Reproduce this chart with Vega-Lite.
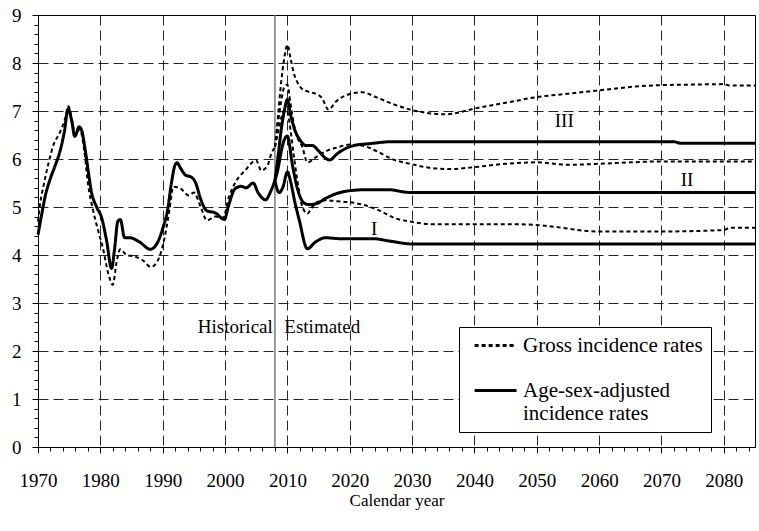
{
  "$schema": "https://vega.github.io/schema/vega-lite/v6.json",
  "width": 717,
  "height": 432,
  "autosize": {"type": "none"},
  "padding": {"left": 38, "top": 15, "right": 4, "bottom": 84},
  "config": {
    "font": "Liberation Serif",
    "view": {"stroke": "black", "strokeWidth": 1},
    "axis": {
      "domainColor": "black",
      "tickColor": "black",
      "labelColor": "black",
      "titleColor": "black",
      "labelFont": "Liberation Serif",
      "titleFont": "Liberation Serif"
    }
  },
  "datasets": {
    "curves": [
      {"year": 1970.0, "rate": 4.42, "measure": "adjusted", "scenario": "H"},
      {"year": 1970.6, "rate": 4.85, "measure": "adjusted", "scenario": "H"},
      {"year": 1971.2, "rate": 5.25, "measure": "adjusted", "scenario": "H"},
      {"year": 1972.0, "rate": 5.6, "measure": "adjusted", "scenario": "H"},
      {"year": 1972.8, "rate": 5.88, "measure": "adjusted", "scenario": "H"},
      {"year": 1973.5, "rate": 6.15, "measure": "adjusted", "scenario": "H"},
      {"year": 1974.2, "rate": 6.55, "measure": "adjusted", "scenario": "H"},
      {"year": 1974.85, "rate": 7.05, "measure": "adjusted", "scenario": "H"},
      {"year": 1975.4, "rate": 6.8, "measure": "adjusted", "scenario": "H"},
      {"year": 1975.9, "rate": 6.47, "measure": "adjusted", "scenario": "H"},
      {"year": 1976.6, "rate": 6.67, "measure": "adjusted", "scenario": "H"},
      {"year": 1977.0, "rate": 6.6, "measure": "adjusted", "scenario": "H"},
      {"year": 1977.5, "rate": 6.25, "measure": "adjusted", "scenario": "H"},
      {"year": 1978.0, "rate": 5.8, "measure": "adjusted", "scenario": "H"},
      {"year": 1978.6, "rate": 5.3, "measure": "adjusted", "scenario": "H"},
      {"year": 1979.4, "rate": 5.0, "measure": "adjusted", "scenario": "H"},
      {"year": 1980.2, "rate": 4.78, "measure": "adjusted", "scenario": "H"},
      {"year": 1981.0, "rate": 4.3, "measure": "adjusted", "scenario": "H"},
      {"year": 1981.8, "rate": 3.72, "measure": "adjusted", "scenario": "H"},
      {"year": 1982.3, "rate": 4.15, "measure": "adjusted", "scenario": "H"},
      {"year": 1982.8, "rate": 4.7, "measure": "adjusted", "scenario": "H"},
      {"year": 1983.2, "rate": 4.74, "measure": "adjusted", "scenario": "H"},
      {"year": 1983.9, "rate": 4.36, "measure": "adjusted", "scenario": "H"},
      {"year": 1984.7, "rate": 4.36, "measure": "adjusted", "scenario": "H"},
      {"year": 1986.3, "rate": 4.27, "measure": "adjusted", "scenario": "H"},
      {"year": 1988.0, "rate": 4.12, "measure": "adjusted", "scenario": "H"},
      {"year": 1989.0, "rate": 4.22, "measure": "adjusted", "scenario": "H"},
      {"year": 1990.0, "rate": 4.55, "measure": "adjusted", "scenario": "H"},
      {"year": 1990.8, "rate": 4.95, "measure": "adjusted", "scenario": "H"},
      {"year": 1991.4, "rate": 5.5, "measure": "adjusted", "scenario": "H"},
      {"year": 1992.0, "rate": 5.88, "measure": "adjusted", "scenario": "H"},
      {"year": 1992.3, "rate": 5.92, "measure": "adjusted", "scenario": "H"},
      {"year": 1992.9, "rate": 5.8, "measure": "adjusted", "scenario": "H"},
      {"year": 1993.7, "rate": 5.66, "measure": "adjusted", "scenario": "H"},
      {"year": 1994.5, "rate": 5.63, "measure": "adjusted", "scenario": "H"},
      {"year": 1995.3, "rate": 5.5, "measure": "adjusted", "scenario": "H"},
      {"year": 1996.1, "rate": 5.16, "measure": "adjusted", "scenario": "H"},
      {"year": 1997.1, "rate": 4.92, "measure": "adjusted", "scenario": "H"},
      {"year": 1998.4, "rate": 4.88, "measure": "adjusted", "scenario": "H"},
      {"year": 1999.9, "rate": 4.74, "measure": "adjusted", "scenario": "H"},
      {"year": 2000.5, "rate": 5.0, "measure": "adjusted", "scenario": "H"},
      {"year": 2001.6, "rate": 5.38, "measure": "adjusted", "scenario": "H"},
      {"year": 2002.6, "rate": 5.43, "measure": "adjusted", "scenario": "H"},
      {"year": 2003.4, "rate": 5.4, "measure": "adjusted", "scenario": "H"},
      {"year": 2004.5, "rate": 5.5, "measure": "adjusted", "scenario": "H"},
      {"year": 2005.3, "rate": 5.3, "measure": "adjusted", "scenario": "H"},
      {"year": 2006.5, "rate": 5.15, "measure": "adjusted", "scenario": "H"},
      {"year": 2007.3, "rate": 5.32, "measure": "adjusted", "scenario": "H"},
      {"year": 2008.0, "rate": 5.55, "measure": "adjusted", "scenario": "H"},

      {"year": 1970.0, "rate": 4.7, "measure": "gross", "scenario": "H"},
      {"year": 1970.4, "rate": 5.12, "measure": "gross", "scenario": "H"},
      {"year": 1970.9, "rate": 5.45, "measure": "gross", "scenario": "H"},
      {"year": 1971.7, "rate": 5.92, "measure": "gross", "scenario": "H"},
      {"year": 1972.5, "rate": 6.3, "measure": "gross", "scenario": "H"},
      {"year": 1973.5, "rate": 6.55, "measure": "gross", "scenario": "H"},
      {"year": 1974.3, "rate": 6.82, "measure": "gross", "scenario": "H"},
      {"year": 1974.9, "rate": 7.1, "measure": "gross", "scenario": "H"},
      {"year": 1975.4, "rate": 6.85, "measure": "gross", "scenario": "H"},
      {"year": 1976.0, "rate": 6.5, "measure": "gross", "scenario": "H"},
      {"year": 1976.7, "rate": 6.62, "measure": "gross", "scenario": "H"},
      {"year": 1977.4, "rate": 6.2, "measure": "gross", "scenario": "H"},
      {"year": 1978.0, "rate": 5.5, "measure": "gross", "scenario": "H"},
      {"year": 1978.8, "rate": 4.95, "measure": "gross", "scenario": "H"},
      {"year": 1979.6, "rate": 4.53, "measure": "gross", "scenario": "H"},
      {"year": 1980.4, "rate": 4.15, "measure": "gross", "scenario": "H"},
      {"year": 1981.3, "rate": 3.6, "measure": "gross", "scenario": "H"},
      {"year": 1982.0, "rate": 3.38, "measure": "gross", "scenario": "H"},
      {"year": 1982.6, "rate": 3.85, "measure": "gross", "scenario": "H"},
      {"year": 1983.2, "rate": 4.12, "measure": "gross", "scenario": "H"},
      {"year": 1984.2, "rate": 4.0, "measure": "gross", "scenario": "H"},
      {"year": 1985.5, "rate": 3.97, "measure": "gross", "scenario": "H"},
      {"year": 1986.8, "rate": 3.89, "measure": "gross", "scenario": "H"},
      {"year": 1988.1, "rate": 3.75, "measure": "gross", "scenario": "H"},
      {"year": 1989.2, "rate": 3.88, "measure": "gross", "scenario": "H"},
      {"year": 1990.2, "rate": 4.3, "measure": "gross", "scenario": "H"},
      {"year": 1991.1, "rate": 4.95, "measure": "gross", "scenario": "H"},
      {"year": 1991.7, "rate": 5.42, "measure": "gross", "scenario": "H"},
      {"year": 1992.9, "rate": 5.38, "measure": "gross", "scenario": "H"},
      {"year": 1994.2, "rate": 5.24, "measure": "gross", "scenario": "H"},
      {"year": 1995.0, "rate": 5.3, "measure": "gross", "scenario": "H"},
      {"year": 1996.1, "rate": 5.0, "measure": "gross", "scenario": "H"},
      {"year": 1997.1, "rate": 4.72, "measure": "gross", "scenario": "H"},
      {"year": 1998.4, "rate": 4.8, "measure": "gross", "scenario": "H"},
      {"year": 1999.7, "rate": 4.78, "measure": "gross", "scenario": "H"},
      {"year": 2000.6, "rate": 5.2, "measure": "gross", "scenario": "H"},
      {"year": 2001.6, "rate": 5.5, "measure": "gross", "scenario": "H"},
      {"year": 2003.2, "rate": 5.76, "measure": "gross", "scenario": "H"},
      {"year": 2005.0, "rate": 5.97, "measure": "gross", "scenario": "H"},
      {"year": 2005.8, "rate": 5.76, "measure": "gross", "scenario": "H"},
      {"year": 2006.8, "rate": 5.86, "measure": "gross", "scenario": "H"},
      {"year": 2007.4, "rate": 6.1, "measure": "gross", "scenario": "H"},
      {"year": 2008.0, "rate": 6.25, "measure": "gross", "scenario": "H"},

      {"year": 2008.0, "rate": 6.25, "measure": "gross", "scenario": "III"},
      {"year": 2008.5, "rate": 6.9, "measure": "gross", "scenario": "III"},
      {"year": 2009.0, "rate": 7.6, "measure": "gross", "scenario": "III"},
      {"year": 2009.5, "rate": 8.1, "measure": "gross", "scenario": "III"},
      {"year": 2010.0, "rate": 8.38, "measure": "gross", "scenario": "III"},
      {"year": 2010.5, "rate": 8.1, "measure": "gross", "scenario": "III"},
      {"year": 2011.0, "rate": 7.8, "measure": "gross", "scenario": "III"},
      {"year": 2011.6, "rate": 7.6, "measure": "gross", "scenario": "III"},
      {"year": 2012.2, "rate": 7.48, "measure": "gross", "scenario": "III"},
      {"year": 2013.2, "rate": 7.41, "measure": "gross", "scenario": "III"},
      {"year": 2014.5, "rate": 7.36, "measure": "gross", "scenario": "III"},
      {"year": 2015.5, "rate": 7.28, "measure": "gross", "scenario": "III"},
      {"year": 2016.6, "rate": 7.03, "measure": "gross", "scenario": "III"},
      {"year": 2017.8, "rate": 7.2, "measure": "gross", "scenario": "III"},
      {"year": 2019.5, "rate": 7.33, "measure": "gross", "scenario": "III"},
      {"year": 2022.0, "rate": 7.39, "measure": "gross", "scenario": "III"},
      {"year": 2024.2, "rate": 7.29, "measure": "gross", "scenario": "III"},
      {"year": 2026.8, "rate": 7.15, "measure": "gross", "scenario": "III"},
      {"year": 2030.0, "rate": 7.02, "measure": "gross", "scenario": "III"},
      {"year": 2033.0, "rate": 6.95, "measure": "gross", "scenario": "III"},
      {"year": 2035.5, "rate": 6.93, "measure": "gross", "scenario": "III"},
      {"year": 2037.5, "rate": 6.97, "measure": "gross", "scenario": "III"},
      {"year": 2040.0, "rate": 7.05, "measure": "gross", "scenario": "III"},
      {"year": 2045.0, "rate": 7.17, "measure": "gross", "scenario": "III"},
      {"year": 2050.0, "rate": 7.29, "measure": "gross", "scenario": "III"},
      {"year": 2055.0, "rate": 7.36, "measure": "gross", "scenario": "III"},
      {"year": 2060.0, "rate": 7.43, "measure": "gross", "scenario": "III"},
      {"year": 2065.0, "rate": 7.5, "measure": "gross", "scenario": "III"},
      {"year": 2070.0, "rate": 7.54, "measure": "gross", "scenario": "III"},
      {"year": 2075.0, "rate": 7.55, "measure": "gross", "scenario": "III"},
      {"year": 2080.0, "rate": 7.56, "measure": "gross", "scenario": "III"},
      {"year": 2081.0, "rate": 7.53, "measure": "gross", "scenario": "III"},
      {"year": 2085.0, "rate": 7.53, "measure": "gross", "scenario": "III"},

      {"year": 2008.0, "rate": 6.25, "measure": "gross", "scenario": "II"},
      {"year": 2008.5, "rate": 6.75, "measure": "gross", "scenario": "II"},
      {"year": 2009.0, "rate": 7.2, "measure": "gross", "scenario": "II"},
      {"year": 2009.5, "rate": 7.5, "measure": "gross", "scenario": "II"},
      {"year": 2010.0, "rate": 7.55, "measure": "gross", "scenario": "II"},
      {"year": 2010.5, "rate": 7.15, "measure": "gross", "scenario": "II"},
      {"year": 2011.0, "rate": 6.75, "measure": "gross", "scenario": "II"},
      {"year": 2011.6, "rate": 6.45, "measure": "gross", "scenario": "II"},
      {"year": 2012.4, "rate": 6.25, "measure": "gross", "scenario": "II"},
      {"year": 2013.2, "rate": 5.93, "measure": "gross", "scenario": "II"},
      {"year": 2014.6, "rate": 6.04, "measure": "gross", "scenario": "II"},
      {"year": 2016.3, "rate": 6.17, "measure": "gross", "scenario": "II"},
      {"year": 2018.0, "rate": 6.24, "measure": "gross", "scenario": "II"},
      {"year": 2020.0, "rate": 6.3, "measure": "gross", "scenario": "II"},
      {"year": 2022.3, "rate": 6.27, "measure": "gross", "scenario": "II"},
      {"year": 2024.2, "rate": 6.17, "measure": "gross", "scenario": "II"},
      {"year": 2026.8, "rate": 6.0, "measure": "gross", "scenario": "II"},
      {"year": 2030.0, "rate": 5.89, "measure": "gross", "scenario": "II"},
      {"year": 2033.2, "rate": 5.81, "measure": "gross", "scenario": "II"},
      {"year": 2036.0, "rate": 5.79, "measure": "gross", "scenario": "II"},
      {"year": 2040.0, "rate": 5.83, "measure": "gross", "scenario": "II"},
      {"year": 2045.0, "rate": 5.9, "measure": "gross", "scenario": "II"},
      {"year": 2050.0, "rate": 5.93, "measure": "gross", "scenario": "II"},
      {"year": 2055.0, "rate": 5.88, "measure": "gross", "scenario": "II"},
      {"year": 2060.0, "rate": 5.9, "measure": "gross", "scenario": "II"},
      {"year": 2065.0, "rate": 5.93, "measure": "gross", "scenario": "II"},
      {"year": 2070.0, "rate": 5.95, "measure": "gross", "scenario": "II"},
      {"year": 2085.0, "rate": 5.95, "measure": "gross", "scenario": "II"},

      {"year": 2008.0, "rate": 6.25, "measure": "gross", "scenario": "I"},
      {"year": 2008.5, "rate": 6.55, "measure": "gross", "scenario": "I"},
      {"year": 2009.0, "rate": 6.85, "measure": "gross", "scenario": "I"},
      {"year": 2009.5, "rate": 7.02, "measure": "gross", "scenario": "I"},
      {"year": 2010.0, "rate": 6.98, "measure": "gross", "scenario": "I"},
      {"year": 2010.5, "rate": 6.6, "measure": "gross", "scenario": "I"},
      {"year": 2011.0, "rate": 6.1, "measure": "gross", "scenario": "I"},
      {"year": 2011.6, "rate": 5.55, "measure": "gross", "scenario": "I"},
      {"year": 2012.3, "rate": 5.05, "measure": "gross", "scenario": "I"},
      {"year": 2013.2, "rate": 4.86, "measure": "gross", "scenario": "I"},
      {"year": 2014.0, "rate": 5.0, "measure": "gross", "scenario": "I"},
      {"year": 2014.7, "rate": 5.1, "measure": "gross", "scenario": "I"},
      {"year": 2016.3, "rate": 5.14, "measure": "gross", "scenario": "I"},
      {"year": 2018.0, "rate": 5.12, "measure": "gross", "scenario": "I"},
      {"year": 2020.0, "rate": 5.1, "measure": "gross", "scenario": "I"},
      {"year": 2022.6, "rate": 5.03, "measure": "gross", "scenario": "I"},
      {"year": 2024.7, "rate": 4.93, "measure": "gross", "scenario": "I"},
      {"year": 2027.4, "rate": 4.76, "measure": "gross", "scenario": "I"},
      {"year": 2030.0, "rate": 4.69, "measure": "gross", "scenario": "I"},
      {"year": 2033.2, "rate": 4.64, "measure": "gross", "scenario": "I"},
      {"year": 2040.0, "rate": 4.64, "measure": "gross", "scenario": "I"},
      {"year": 2047.0, "rate": 4.64, "measure": "gross", "scenario": "I"},
      {"year": 2051.3, "rate": 4.61, "measure": "gross", "scenario": "I"},
      {"year": 2055.0, "rate": 4.55, "measure": "gross", "scenario": "I"},
      {"year": 2058.0, "rate": 4.5, "measure": "gross", "scenario": "I"},
      {"year": 2060.0, "rate": 4.49, "measure": "gross", "scenario": "I"},
      {"year": 2070.0, "rate": 4.49, "measure": "gross", "scenario": "I"},
      {"year": 2080.0, "rate": 4.52, "measure": "gross", "scenario": "I"},
      {"year": 2081.0, "rate": 4.57, "measure": "gross", "scenario": "I"},
      {"year": 2085.0, "rate": 4.57, "measure": "gross", "scenario": "I"},

      {"year": 2008.0, "rate": 5.55, "measure": "adjusted", "scenario": "III"},
      {"year": 2008.5, "rate": 6.05, "measure": "adjusted", "scenario": "III"},
      {"year": 2009.0, "rate": 6.6, "measure": "adjusted", "scenario": "III"},
      {"year": 2009.5, "rate": 7.0, "measure": "adjusted", "scenario": "III"},
      {"year": 2010.0, "rate": 7.24, "measure": "adjusted", "scenario": "III"},
      {"year": 2010.5, "rate": 6.93, "measure": "adjusted", "scenario": "III"},
      {"year": 2011.2, "rate": 6.6, "measure": "adjusted", "scenario": "III"},
      {"year": 2012.0, "rate": 6.4, "measure": "adjusted", "scenario": "III"},
      {"year": 2013.0, "rate": 6.28, "measure": "adjusted", "scenario": "III"},
      {"year": 2014.0, "rate": 6.28, "measure": "adjusted", "scenario": "III"},
      {"year": 2015.0, "rate": 6.17, "measure": "adjusted", "scenario": "III"},
      {"year": 2016.0, "rate": 6.03, "measure": "adjusted", "scenario": "III"},
      {"year": 2016.8, "rate": 5.98, "measure": "adjusted", "scenario": "III"},
      {"year": 2017.9, "rate": 6.1, "measure": "adjusted", "scenario": "III"},
      {"year": 2019.5, "rate": 6.23, "measure": "adjusted", "scenario": "III"},
      {"year": 2021.0, "rate": 6.29, "measure": "adjusted", "scenario": "III"},
      {"year": 2023.2, "rate": 6.32, "measure": "adjusted", "scenario": "III"},
      {"year": 2026.8, "rate": 6.36, "measure": "adjusted", "scenario": "III"},
      {"year": 2072.0, "rate": 6.36, "measure": "adjusted", "scenario": "III"},
      {"year": 2073.0, "rate": 6.33, "measure": "adjusted", "scenario": "III"},
      {"year": 2085.0, "rate": 6.33, "measure": "adjusted", "scenario": "III"},

      {"year": 2008.0, "rate": 5.55, "measure": "adjusted", "scenario": "II"},
      {"year": 2008.5, "rate": 5.8, "measure": "adjusted", "scenario": "II"},
      {"year": 2009.0, "rate": 6.15, "measure": "adjusted", "scenario": "II"},
      {"year": 2009.5, "rate": 6.4, "measure": "adjusted", "scenario": "II"},
      {"year": 2010.0, "rate": 6.48, "measure": "adjusted", "scenario": "II"},
      {"year": 2010.8, "rate": 5.88, "measure": "adjusted", "scenario": "II"},
      {"year": 2011.6, "rate": 5.39, "measure": "adjusted", "scenario": "II"},
      {"year": 2012.7, "rate": 5.08, "measure": "adjusted", "scenario": "II"},
      {"year": 2013.5, "rate": 5.05, "measure": "adjusted", "scenario": "II"},
      {"year": 2014.7, "rate": 5.07, "measure": "adjusted", "scenario": "II"},
      {"year": 2016.0, "rate": 5.17, "measure": "adjusted", "scenario": "II"},
      {"year": 2017.9, "rate": 5.28, "measure": "adjusted", "scenario": "II"},
      {"year": 2020.0, "rate": 5.34, "measure": "adjusted", "scenario": "II"},
      {"year": 2022.6, "rate": 5.36, "measure": "adjusted", "scenario": "II"},
      {"year": 2026.3, "rate": 5.36, "measure": "adjusted", "scenario": "II"},
      {"year": 2028.9, "rate": 5.31, "measure": "adjusted", "scenario": "II"},
      {"year": 2030.0, "rate": 5.3, "measure": "adjusted", "scenario": "II"},
      {"year": 2085.0, "rate": 5.3, "measure": "adjusted", "scenario": "II"},

      {"year": 2008.0, "rate": 5.55, "measure": "adjusted", "scenario": "I"},
      {"year": 2008.7, "rate": 5.3, "measure": "adjusted", "scenario": "I"},
      {"year": 2009.3, "rate": 5.42, "measure": "adjusted", "scenario": "I"},
      {"year": 2010.0, "rate": 5.73, "measure": "adjusted", "scenario": "I"},
      {"year": 2010.5, "rate": 5.54, "measure": "adjusted", "scenario": "I"},
      {"year": 2011.2, "rate": 5.1, "measure": "adjusted", "scenario": "I"},
      {"year": 2011.9, "rate": 4.73, "measure": "adjusted", "scenario": "I"},
      {"year": 2013.2, "rate": 4.13, "measure": "adjusted", "scenario": "I"},
      {"year": 2014.5, "rate": 4.27, "measure": "adjusted", "scenario": "I"},
      {"year": 2016.1, "rate": 4.36, "measure": "adjusted", "scenario": "I"},
      {"year": 2018.4, "rate": 4.34, "measure": "adjusted", "scenario": "I"},
      {"year": 2023.7, "rate": 4.34, "measure": "adjusted", "scenario": "I"},
      {"year": 2026.4, "rate": 4.29, "measure": "adjusted", "scenario": "I"},
      {"year": 2030.0, "rate": 4.23, "measure": "adjusted", "scenario": "I"},
      {"year": 2085.0, "rate": 4.23, "measure": "adjusted", "scenario": "I"}
    ],
    "divider": [{"year": 2008}],
    "notes": [
      {"year": 2001.65, "rate": 2.49, "note": "Historical"},
      {"year": 2015.6, "rate": 2.49, "note": "Estimated"},
      {"year": 2023.9, "rate": 4.54, "note": "I"},
      {"year": 2074.1, "rate": 5.57, "note": "II"},
      {"year": 2054.4, "rate": 6.79, "note": "III"}
    ]
  },
  "layer": [
    {
      "data": {"name": "divider"},
      "mark": {"type": "rule", "stroke": "#7a7a7a", "strokeWidth": 1.5},
      "encoding": {
        "x": {
          "field": "year",
          "type": "quantitative",
          "scale": {"domain": [1970, 2085], "nice": false, "zero": false},
          "axis": {
            "orient": "bottom",
            "values": [1970, 1972, 1974, 1976, 1978, 1980, 1982, 1984, 1986, 1988, 1990, 1992, 1994, 1996, 1998, 2000, 2002, 2004, 2006, 2008, 2010, 2012, 2014, 2016, 2018, 2020, 2022, 2024, 2026, 2028, 2030, 2032, 2034, 2036, 2038, 2040, 2042, 2044, 2046, 2048, 2050, 2052, 2054, 2056, 2058, 2060, 2062, 2064, 2066, 2068, 2070, 2072, 2074, 2076, 2078, 2080, 2082, 2084],
            "labels": false,
            "grid": false,
            "domain": false,
            "tickSize": 4,
            "title": null
          }
        }
      }
    },
    {
      "data": {"name": "curves"},
      "mark": {"type": "line", "interpolate": "monotone", "stroke": "black", "strokeCap": "butt"},
      "encoding": {
        "x": {
          "field": "year",
          "type": "quantitative",
          "scale": {"domain": [1970, 2085], "nice": false, "zero": false},
          "axis": {
            "orient": "bottom",
            "values": [1970, 1980, 1990, 2000, 2010, 2020, 2030, 2040, 2050, 2060, 2070, 2080],
            "format": "d",
            "grid": true,
            "gridColor": "black",
            "gridDash": [10, 5],
            "gridWidth": 1,
            "gridOpacity": 0.85,
            "tickSize": 6,
            "labelFont": "Liberation Serif",
            "labelFontSize": 19,
            "labelFlush": false,
            "labelPadding": 18,
            "title": "Calendar year",
            "titleFont": "Liberation Serif",
            "titleFontSize": 17,
            "titleFontWeight": "normal",
            "titlePadding": 2
          }
        },
        "y": {
          "field": "rate",
          "type": "quantitative",
          "scale": {"domain": [0, 9], "nice": false},
          "axis": {
            "orient": "left",
            "values": [0, 1, 2, 3, 4, 5, 6, 7, 8, 9],
            "format": "d",
            "grid": true,
            "gridColor": "black",
            "gridDash": [10, 5],
            "gridWidth": 1,
            "gridOpacity": 0.85,
            "tickSize": 6,
            "labelFont": "Liberation Serif",
            "labelFontSize": 19,
            "labelFlush": false,
            "labelPadding": 11,
            "title": null
          }
        },
        "detail": [{"field": "measure"}, {"field": "scenario"}],
        "strokeDash": {
          "field": "measure",
          "type": "nominal",
          "scale": {"domain": ["gross", "adjusted"], "range": [[4, 3], [1, 0]]},
          "legend": {
            "title": null,
            "orient": "none",
            "legendX": 421,
            "legendY": 312,
            "fillColor": "white",
            "strokeColor": "black",
            "padding": 8,
            "symbolType": "M-0.55,0H7.45",
            "symbolSize": 110,
            "symbolStrokeWidth": 2.8,
            "symbolStrokeColor": "black",
            "symbolFillColor": "transparent",
            "labelFont": "Liberation Serif",
            "labelFontSize": 21,
            "labelColor": "black",
            "labelOffset": 35,
            "labelLimit": 400,
            "rowPadding": 23,
            "labelExpr": "datum.value == 'adjusted' ? ['Age-sex-adjusted', 'incidence rates'] : 'Gross incidence rates'"
          }
        },
        "strokeWidth": {
          "condition": {"test": "datum.measure == 'gross'", "value": 2},
          "value": 3
        }
      }
    },
    {
      "data": {"name": "notes"},
      "mark": {"type": "text", "font": "Liberation Serif", "fontSize": 19, "align": "center", "baseline": "middle", "color": "black"},
      "encoding": {
        "x": {
          "field": "year",
          "type": "quantitative",
          "scale": {"domain": [1970, 2085], "nice": false, "zero": false},
          "axis": null
        },
        "y": {
          "field": "rate",
          "type": "quantitative",
          "scale": {"domain": [0, 9], "nice": false},
          "axis": {
            "orient": "left",
            "values": [0, 0.2, 0.4, 0.6, 0.8, 1, 1.2, 1.4, 1.6, 1.8, 2, 2.2, 2.4, 2.6, 2.8, 3, 3.2, 3.4, 3.6, 3.8, 4, 4.2, 4.4, 4.6, 4.8, 5, 5.2, 5.4, 5.6, 5.8, 6, 6.2, 6.4, 6.6, 6.8, 7, 7.2, 7.4, 7.6, 7.8, 8, 8.2, 8.4, 8.6, 8.8, 9],
            "labels": false,
            "grid": false,
            "domain": false,
            "tickSize": 4,
            "title": null
          }
        },
        "text": {"field": "note", "type": "nominal"}
      }
    }
  ],
  "resolve": {"axis": {"x": "independent", "y": "independent"}}
}
